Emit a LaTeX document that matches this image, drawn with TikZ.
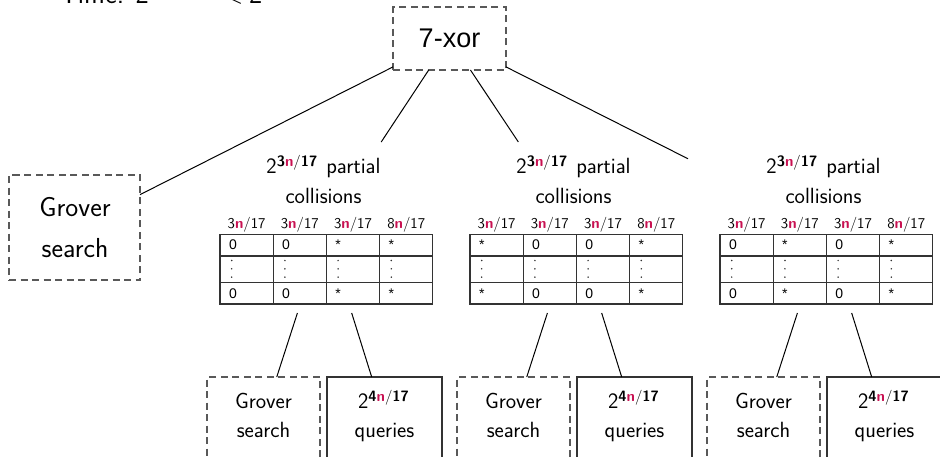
\documentclass[tikz,border=0pt]{standalone}
\usepackage{fontspec}
\newfontfamily\helv{Liberation Sans}
\definecolor{nred}{RGB}{200,18,82}

% highlighted variable n and the exponents 3n/17, 4n/17
\newcommand\nv{\textcolor{nred}{\bfseries n}}
\newcommand\expo[1]{\raisebox{7pt}{\fontsize{15}{15}\selectfont\bfseries #1\nv\mdseries/\bfseries 17}}

\tikzset{
  every node/.style={inner sep=0pt, outer sep=0pt, font=\sffamily},
  dashbox/.style={draw=black!65, line width=1.2pt, dash pattern=on 7pt off 4.5pt},
  solidbox/.style={draw=black!80, line width=1.1pt},
  hub/.style={minimum width=274pt, minimum height=171pt},
  link/.style={draw=black, line width=1pt},
  tabline/.style={draw=black!80, line width=1.1pt},
  dotmark/.style={fill=black!80},
  cell/.style={anchor=base west, font=\helv\fontsize{14}{14}\selectfont},
  head/.style={anchor=base, font=\sffamily\fontsize{15}{15}\selectfont},
  title/.style={anchor=base, font=\sffamily\fontsize{22}{22}\selectfont},
  big/.style={anchor=base, font=\sffamily\fontsize{27.5}{27.5}\selectfont},
  leaf/.style={minimum width=113pt, minimum height=82pt},
}

% one group: partial-collision list with its table and two leaves
% #1 name, #2 centre x, #3 entries of the first and last rows
\newcommand\collgroup[3]{%
  \node[hub] (#1) at (#2,227.5) {};
  \node[title] (#1-l1) at (#2-1.5,173) {2\expo{3}\hspace{9pt}partial};
  \node[title] (#1-l2) at (#2-1.5,203) {collisions};
  \begin{scope}[shift={(#2-105,234.3)}]
    \draw[tabline] (0,0) rectangle (212.8,69.7);
    \draw[tabline] (0,21.7) -- (212.8,21.7) (0,48.4) -- (212.8,48.4);
    \foreach \k in {1,2,3} \draw[tabline] (53.2*\k,0) -- (53.2*\k,69.7);
    \foreach \h [count=\j from 0] in {3,3,3,8}
      \node[head] (#1-h\j) at (53.2*\j+26.6,-6.3) {\h\nv/17};
    \foreach \v [count=\j from 0] in {#3} {
      \node[cell] (#1-a\j) at (53.2*\j+9,14.7) {\v};
      \node[cell] (#1-c\j) at (53.2*\j+9,63.7) {\v};
      % vertical ellipsis in the middle row
      \foreach \m in {0,1,2}
        \fill[dotmark] (53.2*\j+11.7,26.2+8.3*\m) circle (0.85);
    }
  \end{scope}
  \node[dashbox, leaf] (#1-g) at (#2-61.5,418) {};
  \node[title] (#1-g1) at (#2-61.5,408) {Grover};
  \node[title] (#1-g2) at (#2-61.5,437) {search};
  \node[solidbox, leaf, minimum width=115pt] (#1-q) at (#2+59.5,418) {};
  \node[title] (#1-q1) at (#2+58.5,408) {2\expo{4}};
  \node[title] (#1-q2) at (#2+59.5,437) {queries};
  \draw[link] (#1) -- (#1-g);
  \draw[link] (#1) -- (#1-q);
}

\begin{document}
\begin{tikzpicture}[x=1pt, y=-1pt]
  \useasboundingbox (0,0) rectangle (940,456);
  \clip (0,0) rectangle (940,456);

  % running cost line, mostly above the frame
  \node[anchor=base west, font=\sffamily\fontsize{28}{28}\selectfont] (time1) at (60,3.5) {Time: 2};
  \node[anchor=base west, font=\sffamily\fontsize{28}{28}\selectfont] (time2) at (222,3.5) {<};
  \node[anchor=base west, font=\sffamily\fontsize{28}{28}\selectfont] (time3) at (249,3.5) {2};

  % root and the direct Grover search
  \node[dashbox, minimum width=113pt, minimum height=63pt, font=\helv\fontsize{27}{27}\selectfont]
    (root) at (449.5,38.5) {7-xor};
  \node[dashbox, minimum width=131pt, minimum height=105pt] (gl) at (74.5,227.5) {};
  \node[big] (gl1) at (75,216) {Grover};
  \node[big] (gl2) at (75,257) {search};

  % the three partial-collision branches
  \collgroup{c1}{325}{0,0,*,*}
  \collgroup{c2}{575}{*,0,0,*}
  \collgroup{c3}{825}{0,*,0,*}

  \draw[link] (root) -- (gl);
  \draw[link] (root) -- (c1);
  \draw[link] (root) -- (c2);
  \draw[link] (root) -- (c3);
\end{tikzpicture}
\end{document}
